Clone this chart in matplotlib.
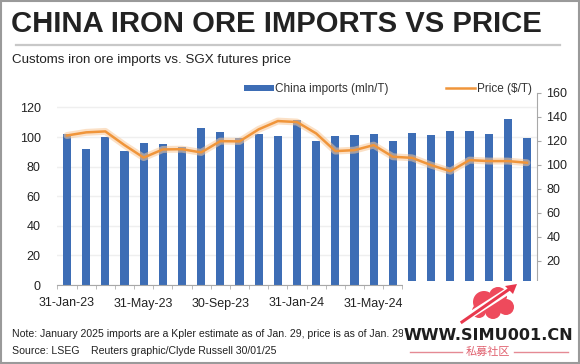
import numpy as np
import matplotlib.pyplot as plt
from matplotlib.patches import Rectangle, Circle, Polygon

plt.rcParams['font.family'] = ['Liberation Sans', 'Noto Sans CJK SC', 'DejaVu Sans']

# monthly data, Jan-23 .. Jan-25
months = ['Jan-23', 'Feb-23', 'Mar-23', 'Apr-23', 'May-23', 'Jun-23', 'Jul-23', 'Aug-23',
          'Sep-23', 'Oct-23', 'Nov-23', 'Dec-23', 'Jan-24', 'Feb-24', 'Mar-24', 'Apr-24',
          'May-24', 'Jun-24', 'Jul-24', 'Aug-24', 'Sep-24', 'Oct-24', 'Nov-24', 'Dec-24', 'Jan-25']
imports = [102, 92, 100, 90.3, 96.2, 95.5, 93.2, 106.3, 103.4, 99.1, 102, 100.7, 111.8,
           97.3, 100.5, 101.6, 101.8, 97.3, 102.7, 101.1, 103.8, 103.8, 101.8, 112.4, 99.3]
price = [124.4, 127, 127.8, 116.4, 106, 112.8, 113, 110.3, 119.7, 119.5, 129.5, 136.4, 135.6,
         126.1, 111.4, 112.2, 116.4, 106.7, 105.8, 99.7, 94.7, 103.9, 103.1, 103.1, 101.7]
tick_labels = ['31-Jan-23', '31-May-23', '30-Sep-23', '31-Jan-24', '31-May-24', '30-Sep-24', '31-Jan-25']

W, H = 580, 364
fig = plt.figure(figsize=(W / 100, H / 100), dpi=100)

x = np.arange(len(months))
ax = fig.add_axes([57.4 / W, 79 / H, 479.2 / W, 192.3 / H])
bars = ax.bar(x, imports, width=0.42, color='#3D6DB5', label='China imports (mln/T)', zorder=2)
ax.set_xlim(-0.5, len(months) - 0.5)
ax.set_ylim(0, 130)
ax.set_yticks(range(0, 121, 20))
ax.grid(axis='y', color='#EFEFEF', lw=1, zorder=0)
ax.set_axisbelow(True)
for s in ['top', 'left', 'right']:
    ax.spines[s].set_visible(False)
ax.spines['bottom'].set_color('#A8A8A8')
ax.set_xticks(x[::4])
ax.set_xticklabels(tick_labels)
ax.set_xticks(np.arange(-0.5, len(months), 1), minor=True)
ax.tick_params(axis='x', which='major', length=0, labelsize=9, labelcolor='#222222', pad=9)
ax.tick_params(axis='x', which='minor', length=3, color='#B0B0B0')
ax.tick_params(axis='y', length=0, labelsize=9, labelcolor='#222222', pad=12)

ax2 = ax.twinx()
ax2.plot(x, price, color='#F8C897', lw=5, alpha=0.55, solid_capstyle='round', zorder=2)
line, = ax2.plot(x, price, color='#F0953A', lw=1.8, label='Price ($/T)', zorder=3)
ax2.set_ylim(0, 160)
ax2.set_yticks(range(0, 161, 20))
for s in ['top', 'left', 'bottom']:
    ax2.spines[s].set_visible(False)
ax2.spines['right'].set_color('#A8A8A8')
ax2.tick_params(axis='y', length=3, color='#A8A8A8', labelsize=9, labelcolor='#222222', pad=4)

fig.legend([bars, line], ['China imports (mln/T)', 'Price ($/T)'], loc='center',
           bbox_to_anchor=(388 / W, 1 - 89 / H), ncol=2, frameon=False, fontsize=8.5,
           handlelength=2.5, handleheight=0.45, handletextpad=0.15, columnspacing=4.8,
           labelcolor='#333333')

# overlay in pixel coordinates for header, footer and watermark
ov = fig.add_axes([0, 0, 1, 1], zorder=10)
ov.set_xlim(0, W)
ov.set_ylim(H, 0)
ov.axis('off')
ov.patch.set_alpha(0)

ov.text(11, 24, 'CHINA IRON ORE IMPORTS VS PRICE', fontsize=21.1, fontweight='bold',
        color='#222222', va='center', ha='left')
ov.plot([16, 560], [44.5, 44.5], color='#C8C8C8', lw=1.6)
ov.text(12, 59.5, 'Customs iron ore imports vs. SGX futures price', fontsize=9.6,
        color='#222222', va='center', ha='left')
ov.text(12, 334, 'Note: January 2025 imports are a Kpler estimate as of Jan. 29, price is as of Jan. 29.',
        fontsize=7.6, color='#222222', va='center', ha='left')
ov.text(12, 351.5, 'Source: LSEG    Reuters graphic/Clyde Russell 30/01/25',
        fontsize=7.6, color='#222222', va='center', ha='left')

# watermark
ov.add_patch(Rectangle((403, 281), 177, 83, facecolor='white', edgecolor='none', zorder=5))
for cx, cy, r in [(484, 302, 11), (498, 296, 9), (506, 307, 8), (479, 311, 7), (493, 311, 8)]:
    ov.add_patch(Circle((cx, cy), r, facecolor='#EE4A5C', edgecolor='none', zorder=6))
ov.plot([466, 508], [318, 291], color='white', lw=5, zorder=7)
ov.plot([462, 511], [322, 288], color='#E8384D', lw=2.2, zorder=8)
ov.add_patch(Polygon([[517, 284], [505, 286], [513, 294]], closed=True,
                     facecolor='#E8384D', edgecolor='none', zorder=8))
ov.text(488, 335, 'WWW.SIMU001.CN', fontsize=11.6, fontweight='bold', family='DejaVu Sans',
        color='#1E1E1E', va='center', ha='center', zorder=9)
ov.plot([410, 462], [351.5, 351.5], color='#E58A94', lw=1, zorder=9)
ov.plot([514, 568], [351.5, 351.5], color='#E58A94', lw=1, zorder=9)
ov.text(488, 351.5, '私募社区', fontsize=8, family='Noto Sans CJK SC', color='#E0606E',
        va='center', ha='center', zorder=9)

ov.add_patch(Rectangle((1, 1), W - 2.5, H - 2.5, fill=False, edgecolor='#9A9A9A', lw=1.5, zorder=20))

fig.savefig('out.png', dpi=100)
